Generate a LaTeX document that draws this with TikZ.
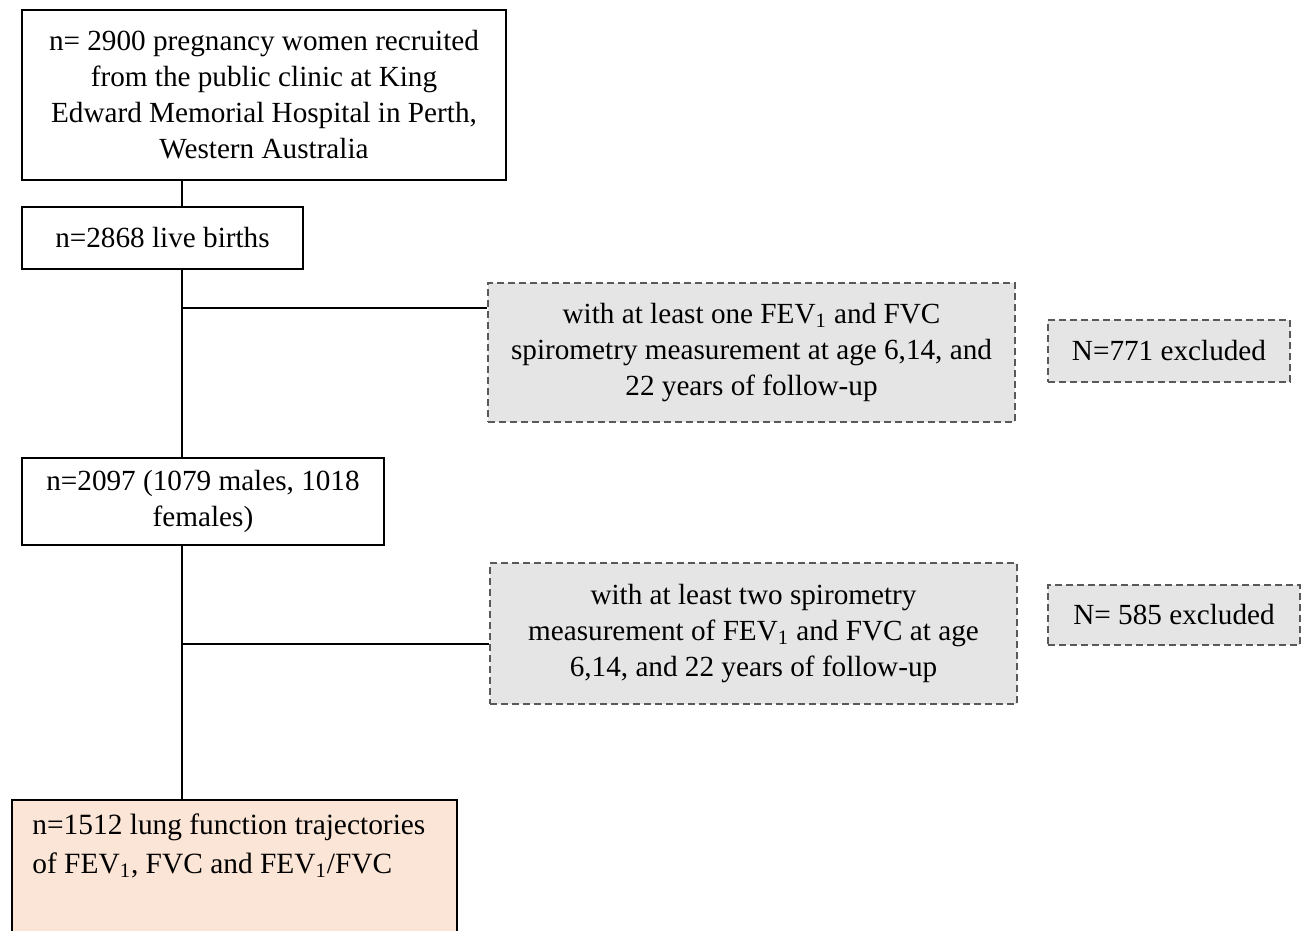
\documentclass[tikz,border=0pt]{standalone}
\usepackage{fontspec}
\setmainfont{Liberation Serif}
\begin{document}
\begin{tikzpicture}[x=0.5pt,y=-0.5pt,
  solidbox/.style={draw=black, line width=1pt, inner sep=0pt, align=center, font=\fontsize{14.6}{18}\selectfont},
  dashbox/.style={draw=black!65, fill=black!10, line width=1pt, dash pattern=on 3.5pt off 2pt, inner sep=0pt, align=center, font=\fontsize{14.6}{18}\selectfont},
  conn/.style={draw=black, line width=0.6pt}]
\useasboundingbox (0,0) rectangle (1304,930);
\clip (0,0) rectangle (1304,930);
\coordinate (spine) at (182,0);
\node[solidbox, minimum width=242pt, minimum height=85pt] (box1) at (264,95)
  {n= 2900 pregnancy women recruited\\from the public clinic at King\\Edward Memorial Hospital in Perth,\\Western Australia};
\node[solidbox, minimum width=140.5pt, minimum height=31pt] (box2) at (162.5,238) {n=2868 live births};
\node[solidbox, minimum width=181pt, minimum height=43.5pt] (box3) at (203,501.5) {n=2097 (1079 males, 1018\\females)};
\node[solidbox, fill={rgb,255:red,251;green,229;blue,214}, minimum width=222.5pt, minimum height=80pt] (box4) at (234.5,880) {};
\node[anchor=north west, inner sep=0pt, align=left, font=\fontsize{14.7}{19.5}\selectfont] (t4) at (32,813)
  {n=1512 lung function trajectories\\of FEV\textsubscript{1}, FVC and FEV\textsubscript{1}/FVC};
\node[dashbox, minimum width=263.5pt, minimum height=69.5pt] (boxA) at (751.5,352.5)
  {with at least one FEV\textsubscript{1} and FVC\\spirometry measurement at age 6,14, and\\22 years of follow-up};
\node[dashbox, minimum width=121pt, minimum height=31pt] (boxB) at (1169,351) {N=771 excluded};
\node[dashbox, minimum width=263.5pt, minimum height=70.5pt] (boxC) at (753.5,633.5)
  {with at least two spirometry\\measurement of FEV\textsubscript{1} and FVC at age\\6,14, and 22 years of follow-up};
\node[dashbox, minimum width=126pt, minimum height=30pt] (boxD) at (1174,615) {N= 585 excluded};
\draw[conn] (box1.south -| spine) -- (box2.north -| spine);
\draw[conn] (box2.south -| spine) -- (box3.north -| spine);
\draw[conn] (box3.south -| spine) -- (box4.north -| spine);
\coordinate (j1) at (182,308);
\coordinate (j2) at (182,644);
\draw[conn] (j1) -- (j1 -| boxA.west);
\draw[conn] (j2) -- (j2 -| boxC.west);
\end{tikzpicture}
\end{document}
